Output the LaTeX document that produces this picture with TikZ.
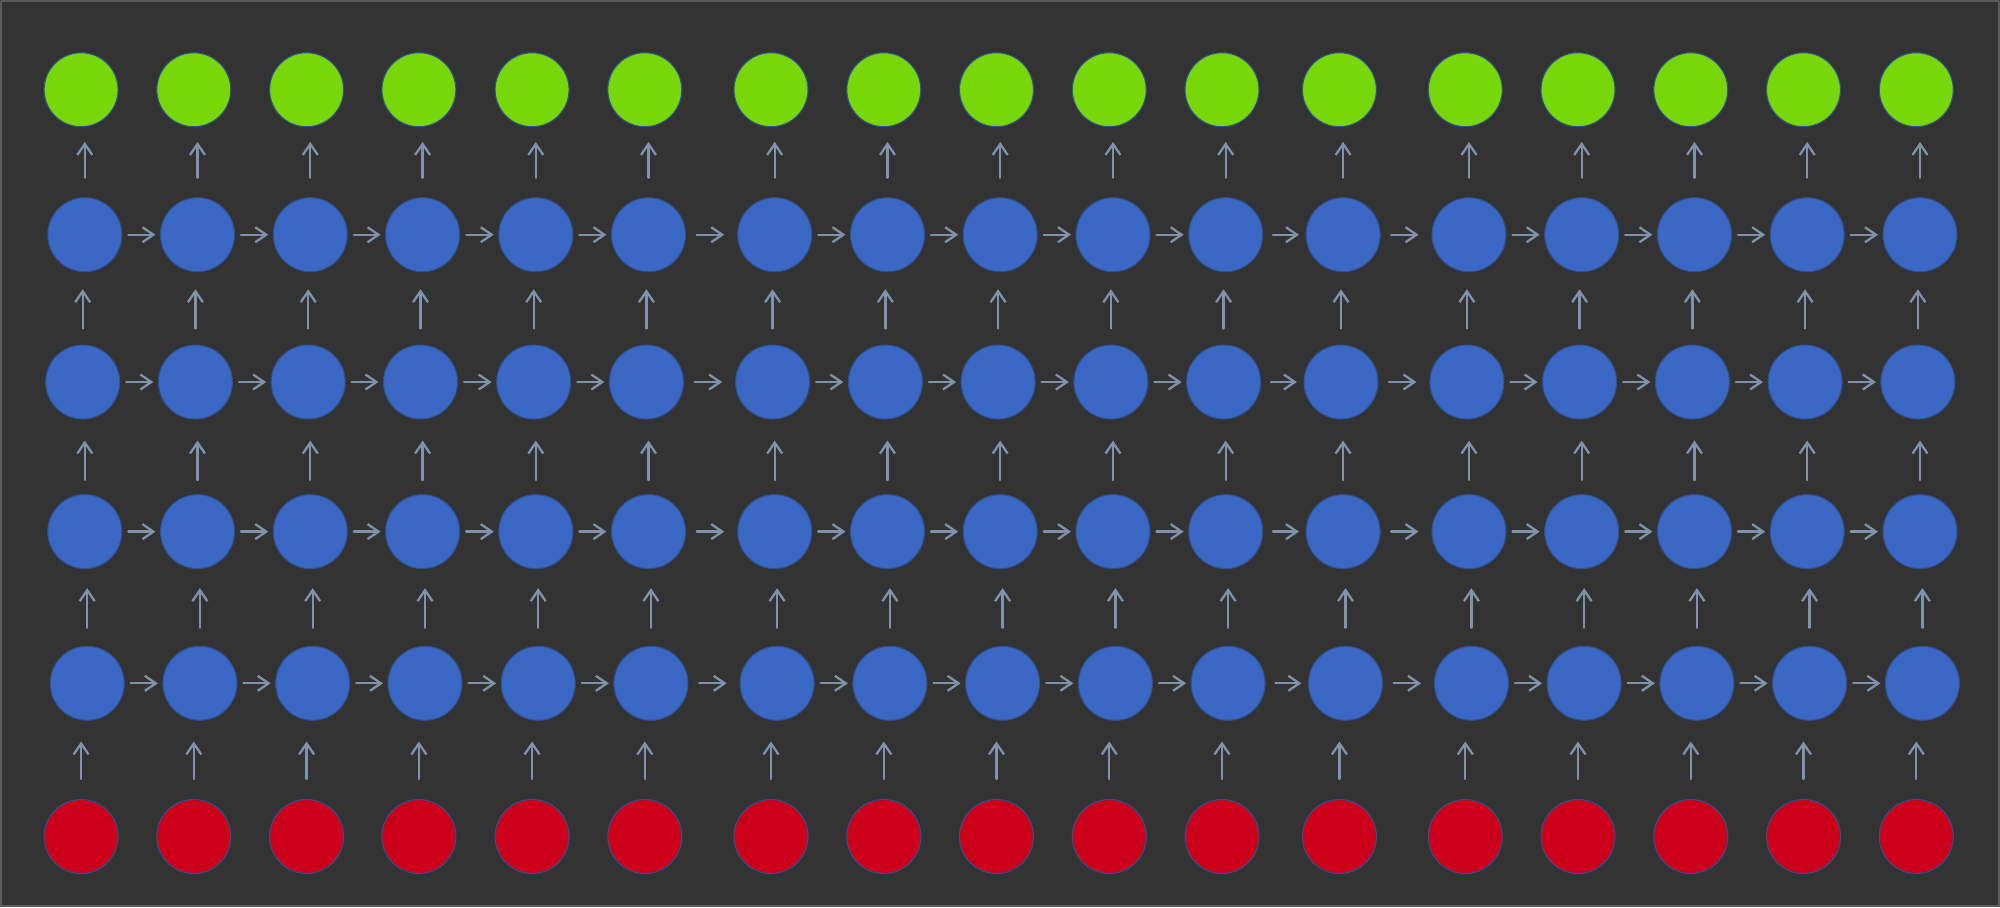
\documentclass[tikz,border=0pt]{standalone}
\usepackage{xcolor}
\usetikzlibrary{
  arrows.meta
}
\definecolor{bgC}{HTML}{333333}
\definecolor{frameC}{HTML}{5A5A5A}
\definecolor{outC}{HTML}{78D708}
\definecolor{hidC}{HTML}{3A68C4}
\definecolor{inC}{HTML}{CC001A}
\definecolor{rimC}{HTML}{2F528F}
\definecolor{wireC}{HTML}{8092AC}

\begin{document}
\begin{tikzpicture}[
  x=0.1mm,
  y=-0.1mm,
  line cap=round,
  line join=round,
  unit/.style={circle, minimum size=7.4mm, inner sep=0pt, draw=rimC, line width=0.3pt},
  outnode/.style={unit, fill=outC},
  hidnode/.style={unit, fill=hidC},
  innode/.style={unit, fill=inC},
  wire/.style={wireC, line width=0.65pt, -{Straight Barb[length=1.1mm, width=1.5mm]}}
]

% Canvas.
\useasboundingbox (0,0) rectangle (2000,907);
\fill[bgC] (0,0) rectangle (2000,907);
\draw[frameC, line width=0.6pt] (1,1) rectangle (1999,906);

% Units: outputs on top, four hidden layers, inputs at the bottom.
\foreach \c/\x in {1/81.1, 2/193.8, 3/306.6, 4/418.9, 5/532.1, 6/644.8,
  7/771.0, 8/883.8, 9/996.5, 10/1109.3, 11/1222.0, 12/1339.4,
  13/1465.3, 14/1578.0, 15/1690.8, 16/1803.5, 17/1916.3}{
  \node[outnode] (y-\c) at ({\x},89.7) {};
  \node[hidnode] (h1-\c) at ({\x+3.7},234.7) {};
  \node[hidnode] (h2-\c) at ({\x+1.6},382.0) {};
  \node[hidnode] (h3-\c) at ({\x+3.7},531.6) {};
  \node[hidnode] (h4-\c) at ({\x+6.1},683.3) {};
  \node[innode] (x-\c) at ({\x},836.5) {};
}

% Upward connections between layers.
\foreach \lo/\hi/\sa/\sb in {h1/y/1.94/1.47, h2/h1/1.60/1.70, h3/h2/1.40/2.10,
  h4/h3/1.80/1.90, x/h4/2.00/2.06}{
  \foreach \c in {1,...,17}{
    \draw[wire, shorten <=\sa mm, shorten >=\sb mm]
      (\lo-\c.north) -- (\lo-\c.north |- \hi-\c.south);
  }
}

% Recurrent connections along each hidden layer.
\foreach \r in {h1,h2,h3,h4}{
  \foreach \c/\n/\sa/\sb in {1/2/0.60/0.45, 2/3/0.60/0.45, 3/4/0.60/0.45,
    4/5/0.60/0.45, 5/6/0.60/0.45, 6/7/1.07/1.29, 7/8/0.60/0.45,
    8/9/0.60/0.45, 9/10/0.60/0.45, 10/11/0.60/0.45, 11/12/0.98/0.66,
    12/13/1.05/1.29, 13/14/0.60/0.45, 14/15/0.60/0.45, 15/16/0.60/0.45,
    16/17/0.60/0.45}{
    \draw[wire, shorten <=\sa mm, shorten >=\sb mm] (\r-\c.east) -- (\r-\n.west);
  }
}

\end{tikzpicture}
\end{document}
